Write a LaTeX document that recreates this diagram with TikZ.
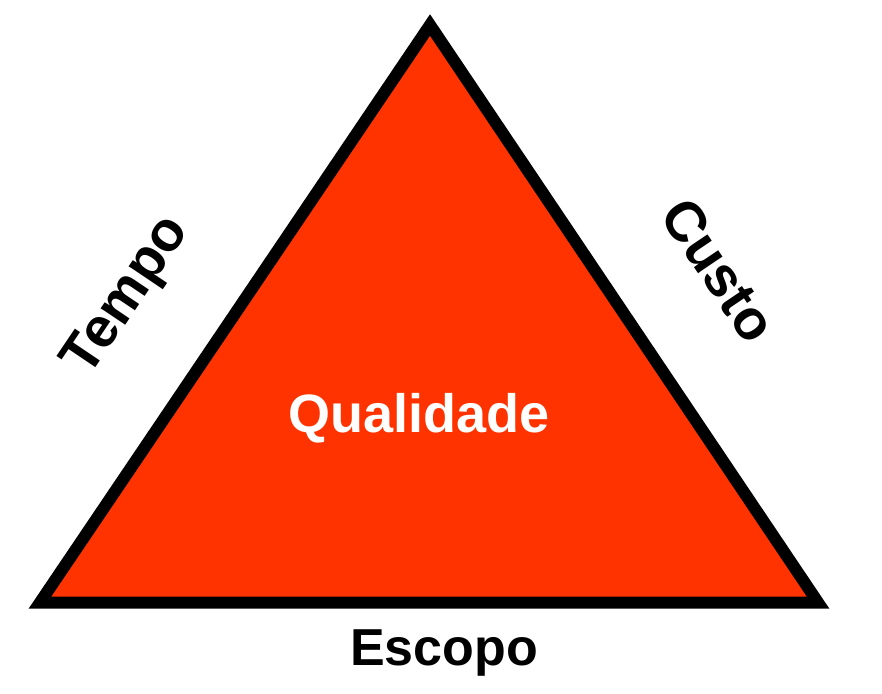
\documentclass[tikz,border=0pt]{standalone}
\usepackage{fontspec}
\setmainfont{Liberation Sans}
\definecolor{triredd}{HTML}{FF3300}
\begin{document}
\begin{tikzpicture}[x=1pt,y=1pt,
    label text/.style={font=\fontsize{52}{60}\selectfont\bfseries,inner sep=0pt},
    side text/.style={label text,font=\fontsize{56}{60}\selectfont\bfseries}]
    \useasboundingbox (0,0) rectangle (882,693);
    % Corners
    \coordinate (apex) at (430,668);
    \coordinate (left) at (40,90.5);
    \coordinate (right) at (818,90.5);
    % Triangle
    \draw[line width=12pt,fill=triredd,line join=miter] (apex) -- (left) -- (right) -- cycle;
    % Labels
    \node[label text,anchor=base] (escopo) at (444,28) {Escopo};
    \node[label text,anchor=base,white,font=\fontsize{54}{60}\selectfont\bfseries] (qualidade) at (419,260) {Qualidade};
    \node[side text,rotate=56] (tempo) at (128,396) {Tempo};
    \node[side text,rotate=-56] (custo) at (719,423) {Custo};
\end{tikzpicture}
\end{document}
